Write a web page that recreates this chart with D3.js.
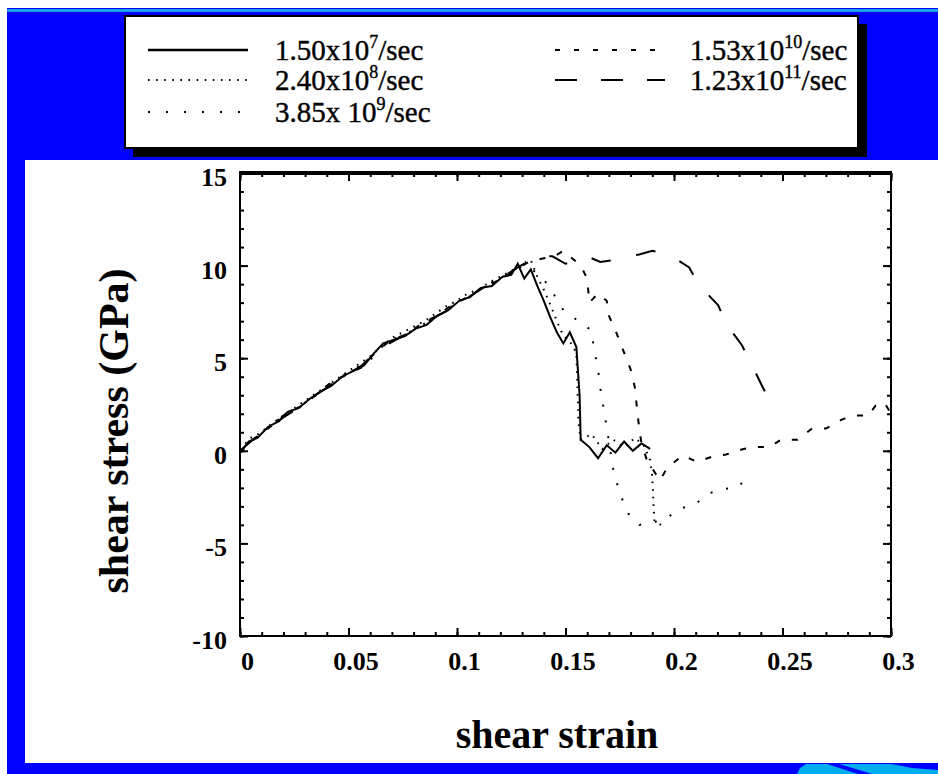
<!DOCTYPE html>
<html>
<head>
<meta charset="utf-8">
<script src="https://cdn.jsdelivr.net/npm/d3@7"></script>
<style>
  body { margin: 0; background: #fff; }
  svg { display: block; }
  text { font-family: "Liberation Serif", "Times New Roman", serif; fill: #000; }
</style>
</head>
<body>
<div id="chart"></div>
<script>
// strain rate series, [shear strain, shear stress (GPa)]
var rate1 = [[0,-0.1],[0.004,0.5],[0.008,0.7],[0.013,1.3],[0.018,1.6],[0.022,2.1],[0.027,2.3],[0.032,2.8],[0.037,3.2],[0.042,3.5],[0.047,4.0],[0.052,4.3],[0.057,4.6],[0.062,5.3],[0.066,5.8],[0.071,6.0],[0.076,6.2],[0.081,6.6],[0.086,6.8],[0.091,7.3],[0.096,7.6],[0.101,8.1],[0.106,8.3],[0.111,8.8],[0.116,8.9],[0.121,9.4],[0.125,9.5],[0.128,10.1],[0.131,9.3],[0.134,9.8],[0.137,8.9],[0.140,8.1],[0.143,7.2],[0.146,6.4],[0.149,5.8],[0.152,6.4],[0.155,5.6],[0.1565,3.0],[0.157,0.6],[0.161,0.2],[0.165,-0.4],[0.169,0.3],[0.173,-0.1],[0.177,0.5],[0.181,0.0],[0.185,0.4],[0.189,0.1]];
var rate2 = [[0,0.1],[0.005,0.7],[0.01,1.0],[0.015,1.5],[0.02,1.9],[0.025,2.3],[0.03,2.7],[0.035,3.1],[0.04,3.5],[0.045,3.9],[0.05,4.3],[0.055,4.7],[0.06,5.1],[0.065,5.6],[0.07,6.1],[0.075,6.4],[0.08,6.7],[0.085,7.0],[0.09,7.4],[0.095,7.8],[0.1,8.1],[0.105,8.5],[0.11,8.7],[0.115,9.1],[0.12,9.4],[0.125,9.7],[0.13,10.1],[0.134,10.3],[0.137,9.4],[0.140,8.7],[0.143,7.9],[0.146,7.0],[0.149,6.2],[0.152,5.9],[0.155,5.3],[0.1555,3.5],[0.156,1.5],[0.157,0.6],[0.162,0.9],[0.167,0.1],[0.172,0.6],[0.177,0.2],[0.182,0.7],[0.186,0.3],[0.189,-0.5],[0.19,-1.4],[0.1905,-2.8],[0.191,-3.8],[0.194,-4.0]];
var rate3 = [[0,0],[0.006,0.6],[0.012,1.2],[0.018,1.7],[0.024,2.2],[0.03,2.6],[0.036,3.1],[0.042,3.6],[0.048,4.1],[0.054,4.5],[0.06,4.9],[0.066,5.7],[0.072,6.1],[0.078,6.4],[0.084,6.8],[0.09,7.2],[0.096,7.7],[0.102,8.1],[0.108,8.5],[0.114,9.0],[0.12,9.3],[0.126,9.8],[0.132,10.0],[0.138,9.5],[0.142,8.95],[0.149,7.6],[0.156,7.0],[0.162,6.5],[0.163,5.6],[0.165,4.4],[0.166,3.4],[0.168,2.0],[0.17,0.5],[0.172,-1.0],[0.175,-2.3],[0.179,-3.4],[0.184,-4.0],[0.19,-3.9],[0.197,-3.6],[0.203,-3.1],[0.209,-2.95],[0.2166,-2.28],[0.2226,-2.06],[0.229,-2.0],[0.2313,-1.74]];
var rate4 = [[0,-0.1],[0.007,0.7],[0.014,1.3],[0.021,2.0],[0.028,2.4],[0.035,3.0],[0.042,3.7],[0.049,4.1],[0.056,4.5],[0.063,5.4],[0.07,6.0],[0.077,6.3],[0.084,6.9],[0.091,7.3],[0.098,7.9],[0.105,8.3],[0.112,8.8],[0.119,9.2],[0.126,9.7],[0.133,10.2],[0.14,10.4],[0.145,10.5],[0.149,10.8],[0.153,10.4],[0.157,10.0],[0.16,9.3],[0.161,8.0],[0.165,8.5],[0.169,8.1],[0.17,7.3],[0.1737,6.3],[0.177,5.3],[0.18,4.4],[0.182,3.4],[0.183,2.2],[0.184,1.2],[0.185,0.4],[0.1875,-0.5],[0.1935,-1.6],[0.197,-0.9],[0.204,-0.25],[0.2106,-0.6],[0.218,-0.3],[0.224,-0.2],[0.232,0.1],[0.2375,0.2],[0.244,0.2],[0.249,0.58],[0.257,0.6],[0.2636,1.2],[0.27,1.2],[0.2775,1.7],[0.2832,1.9],[0.2894,1.9],[0.293,2.45],[0.297,2.6],[0.3,2.0]];
var rate5 = [[0,0],[0.008,0.8],[0.016,1.5],[0.024,2.1],[0.032,2.8],[0.04,3.4],[0.048,4.0],[0.056,4.6],[0.064,5.5],[0.072,6.0],[0.08,6.5],[0.088,7.1],[0.096,7.6],[0.104,8.2],[0.112,8.8],[0.12,9.3],[0.128,9.9],[0.134,10.3],[0.138,10.5],[0.144,10.5],[0.15,10.1],[0.156,10.3],[0.16,10.5],[0.166,10.2],[0.172,10.3],[0.178,10.5],[0.184,10.6],[0.19,10.8],[0.197,10.6],[0.203,10.2],[0.207,9.9],[0.2115,8.95],[0.2203,7.87],[0.2244,6.8],[0.2313,5.7],[0.236,4.6],[0.2406,3.5],[0.245,2.47]];

var rateNames = ["1.50x10", "2.40x10", "3.85x 10", "1.53x10", "1.23x10"];
var rateExps = ["7", "8", "9", "10", "11"];
var xTicks = [0, 0.05, 0.1, 0.15, 0.2, 0.25, 0.3];
var xTickLabels = ["0", "0.05", "0.1", "0.15", "0.2", "0.25", "0.3"];
var yTicks = [-10, -5, 0, 5, 10, 15];
var yTickLabels = ["-10", "-5", "0", "5", "10", "15"];

var dashes = [null, "1.6,6", "2,14", "6,12", "20,26"];
var legendDashes = [null, "1.6,6.5", "2,16", "5,14", "22,24"];

var W = 938, H = 774;
var svg = d3.select("#chart").append("svg")
  .attr("width", W)
  .attr("height", H);

// background frame (blue border, white panel)
svg.append("rect").attr("width", W).attr("height", H).attr("fill", "#fff");
svg.append("rect").attr("x", 7).attr("y", 8).attr("width", W - 7).attr("height", H - 8).attr("fill", "#0000ff");
svg.append("rect").attr("x", 7).attr("y", 9).attr("width", W - 7).attr("height", 3).attr("fill", "#1a9fe8");
svg.append("rect").attr("x", 25).attr("y", 160).attr("width", W - 25).attr("height", 603).attr("fill", "#fff");

// bottom right blob
svg.append("path").attr("fill", "#00aeef")
  .attr("d", "M797,774 L800,768 L806,764 L938,764 L938,774 Z");
svg.append("path").attr("fill", "#0000ff")
  .attr("d", "M824,763 L836,763 L872,774 L858,774 Z");
svg.append("path").attr("fill", "#0000ff")
  .attr("d", "M886,763 L938,763 L938,770 L912,768 Z");

// legend box with shadow
svg.append("rect").attr("x", 133).attr("y", 24).attr("width", 734).attr("height", 133).attr("fill", "#000");
svg.append("rect").attr("x", 125).attr("y", 16).attr("width", 733).attr("height", 132)
  .attr("fill", "#fff").attr("stroke", "#000").attr("stroke-width", 2);

var legendPos = [
  {lx: 148, tx: 275, y: 50},
  {lx: 148, tx: 275, y: 80},
  {lx: 148, tx: 275, y: 112},
  {lx: 555, tx: 690, y: 50},
  {lx: 555, tx: 690, y: 80}
];

var legend = svg.append("g");
legendPos.forEach(function(p, i) {
  legend.append("line")
    .attr("x1", p.lx).attr("x2", p.lx + (i < 3 ? 100 : 110))
    .attr("y1", p.y).attr("y2", p.y)
    .attr("stroke", "#000")
    .attr("stroke-width", i == 0 ? 2.5 : 2)
    .attr("stroke-dasharray", legendDashes[i]);
  var t = legend.append("text")
    .attr("x", p.tx).attr("y", p.y + 10)
    .style("font-size", "29px")
    .attr("stroke", "#000").attr("stroke-width", 0.4);
  t.append("tspan").text(rateNames[i]);
  t.append("tspan").attr("dy", -12).style("font-size", "18px").text(rateExps[i]);
  t.append("tspan").attr("dy", 12).text("/sec");
});

// plot
var pLeft = 240, pRight = 891, pTop = 173, pBottom = 636;
var x = d3.scaleLinear().domain([0, 0.3]).range([pLeft, pRight]);
var y = d3.scaleLinear().domain([-10, 15]).range([pBottom, pTop]);

var xMinor = d3.range(0, 0.3001, 0.01);
var yMinor = d3.range(-10, 15.001, 1);

function tickAxis(g, axis) {
  g.call(axis);
  g.select(".domain").remove();
  g.selectAll(".tick line").attr("stroke", "#000").attr("stroke-width", 2);
}

// minor ticks all sides
svg.append("g").attr("transform", "translate(0," + pBottom + ")")
  .call(tickAxis, d3.axisBottom(x).tickValues(xMinor).tickSize(-4).tickFormat(""));
svg.append("g").attr("transform", "translate(0," + pTop + ")")
  .call(tickAxis, d3.axisTop(x).tickValues(xMinor).tickSize(-4).tickFormat(""));
svg.append("g").attr("transform", "translate(" + pLeft + ",0)")
  .call(tickAxis, d3.axisLeft(y).tickValues(yMinor).tickSize(-4).tickFormat(""));
svg.append("g").attr("transform", "translate(" + pRight + ",0)")
  .call(tickAxis, d3.axisRight(y).tickValues(yMinor).tickSize(-4).tickFormat(""));

// major ticks
svg.append("g").attr("transform", "translate(0," + pTop + ")")
  .call(tickAxis, d3.axisTop(x).tickValues(xTicks).tickSize(-8).tickFormat(""));
svg.append("g").attr("transform", "translate(" + pRight + ",0)")
  .call(tickAxis, d3.axisRight(y).tickValues(yTicks).tickSize(-8).tickFormat(""));

var xAxis = svg.append("g").attr("transform", "translate(0," + pBottom + ")");
xAxis.call(tickAxis, d3.axisBottom(x).tickValues(xTicks).tickSizeInner(-8).tickSizeOuter(0)
  .tickPadding(16).tickFormat(function(d, i) { return xTickLabels[i]; }));
xAxis.selectAll("text").attr("dx", 7).style("font-size", "26px").style("font-weight", "bold")
  .style("font-family", null).attr("fill", "#000");

var yAxis = svg.append("g").attr("transform", "translate(" + pLeft + ",0)");
yAxis.call(tickAxis, d3.axisLeft(y).tickValues(yTicks).tickSizeInner(-8).tickSizeOuter(0)
  .tickPadding(13).tickFormat(function(d, i) { return yTickLabels[i]; }));
yAxis.selectAll("text").attr("dy", "0.48em").style("font-size", "26px").style("font-weight", "bold")
  .style("font-family", null).attr("fill", "#000");

// frame
svg.append("rect").attr("x", pLeft).attr("y", pTop).attr("width", pRight - pLeft).attr("height", pBottom - pTop)
  .attr("fill", "none").attr("stroke", "#000").attr("stroke-width", 2);
svg.append("line").attr("x1", pLeft - 1).attr("x2", pRight + 1).attr("y1", pTop).attr("y2", pTop)
  .attr("stroke", "#000").attr("stroke-width", 4);

svg.append("clipPath").attr("id", "clip").append("rect")
  .attr("x", pLeft).attr("y", pTop).attr("width", pRight - pLeft).attr("height", pBottom - pTop);

var line = d3.line()
  .x(function(d) { return x(d[0]); })
  .y(function(d) { return y(d[1]); });

var series = [rate1, rate2, rate3, rate4, rate5];
svg.append("g").attr("clip-path", "url(#clip)")
  .selectAll("path")
  .data(series)
  .enter().append("path")
  .attr("d", line)
  .attr("fill", "none")
  .attr("stroke", "#000")
  .attr("stroke-width", 2)
  .attr("stroke-dasharray", function(d, i) { return dashes[i]; });

// axis titles
svg.append("text")
  .attr("x", 557).attr("y", 748)
  .attr("text-anchor", "middle")
  .style("font-size", "40px").style("font-weight", "bold")
  .text("shear strain");

svg.append("text")
  .attr("transform", "translate(128,431) rotate(-90)")
  .attr("text-anchor", "middle")
  .style("font-size", "42px").style("font-weight", "bold")
  .text("shear stress (GPa)");
</script>
</body>
</html>
